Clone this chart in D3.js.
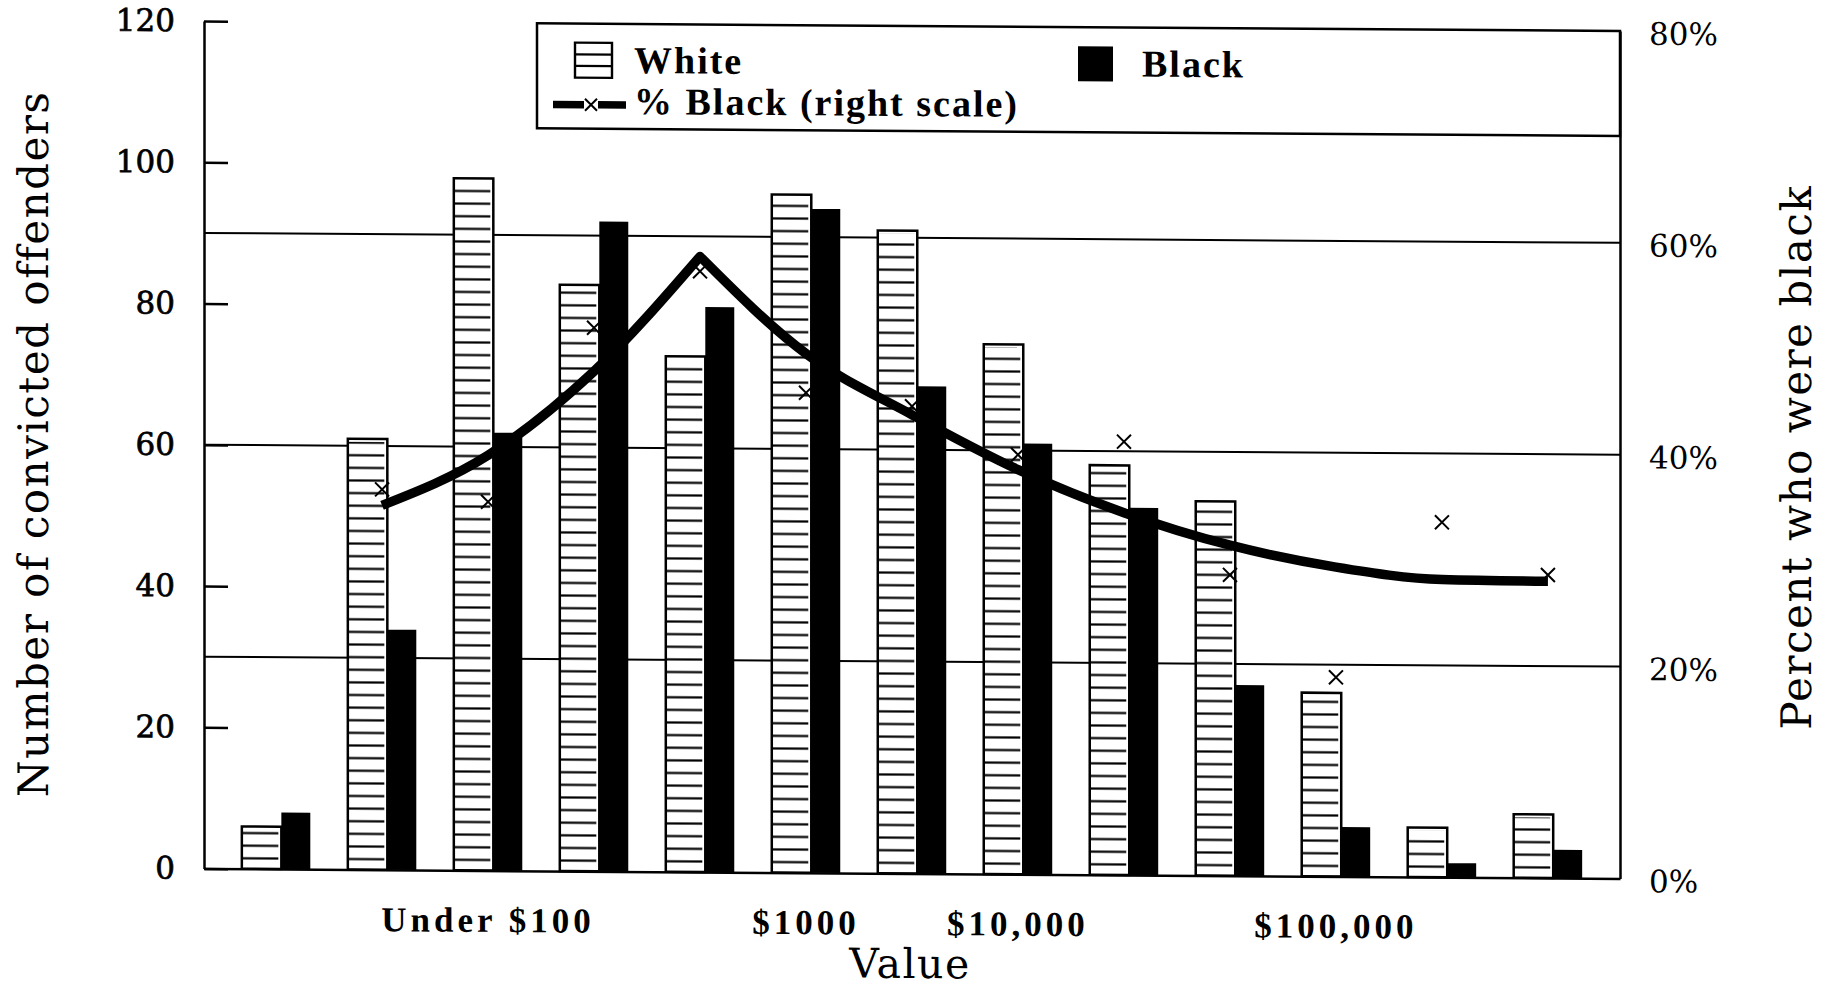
<!DOCTYPE html>
<html>
<head>
<meta charset="utf-8">
<script src="https://cdn.jsdelivr.net/npm/d3@7"></script>
<style>
  body { margin: 0; background: #fff; }
</style>
</head>
<body>
<script>
// dati
var categories = ["1","2","3","4","5","6","7","8","9","10","11","12","13"];   // classi di valore, dalla piu bassa
var xTickLabels = ["", "", "Under $100", "", "", "$1000", "", "$10,000", "", "", "$100,000", "", ""];
var whiteCounts = [6, 61, 98, 83, 73, 96, 91, 75, 58, 53, 26, 7, 9];
var blackCounts = [8, 34, 62, 92, 80, 94, 69, 61, 52, 27, 7, 2, 4];
var pctBlack = [null, 35.9, 34.8, 51.3, 56.7, 45.3, 44.1, 39.6, 40.9, 28.4, 18.8, 33.5, 28.6];   // le x
var pctTrend = [null, 34.4, 39.2, 47.2, 58.1, 49.0, 43.3, 38.2, 34.2, 31.2, 29.2, 28.1, 28.0];   // linea spessa
var leftTicks = [0, 20, 40, 60, 80, 100, 120];
var rightTicks = [0, 20, 40, 60, 80];
var gridTicks = [20, 40, 60];

// variabili globali
var w = 1827;
var h = 989;
var plotLeft = 204;
var plotRight = 1620;
var plotTop = 21;
var plotBottom = 868.5;
var skew = 0.00706;      // la scansione scende un po' verso destra
var whiteShare = 0.577;  // parte del gruppo occupata dalla barra bianca
var hatchGap = 12.62;    // passo delle righe nelle barre bianche
var titleFont = "'DejaVu Serif', serif";
var numFont = "'DejaVu Serif', serif";
var boldFont = "'Liberation Serif', 'Times New Roman', serif";

var x = d3.scaleBand().domain(categories).range([plotLeft, plotRight])
          .paddingInner(0.354).paddingOuter(0.357);
var yLeft = d3.scaleLinear().domain([0, 120]).range([plotBottom, plotTop]);
var yRight = d3.scaleLinear().domain([0, 80]).range([plotBottom, plotTop]);
var split = d3.scaleLinear().domain([0, 1]).range([0, x.bandwidth()]);

var svg = d3.select("body")
            .append("svg")
            .attr("width", w)
            .attr("height", h)
            .style("background", "#fff");

var defs = svg.append("defs");
defs.append("pattern")
    .attr("id", "hatch")
    .attr("patternUnits", "userSpaceOnUse")
    .attr("width", 10)
    .attr("height", hatchGap)
    .attr("y", 858 - hatchGap/2)
  .append("line")
    .attr("x1", 0).attr("x2", 10)
    .attr("y1", hatchGap/2).attr("y2", hatchGap/2)
    .attr("stroke", "#000")
    .attr("stroke-width", 2.2);

var g = svg.append("g")
           .attr("transform", "matrix(1," + skew + ",0,1,0," + (-skew*plotLeft) + ")");

function plotGrid() {
    g.selectAll(".grid")
     .data(gridTicks)
     .enter()
     .append("line")
     .attr("class", "grid")
     .attr("x1", plotLeft)
     .attr("x2", plotRight)
     .attr("y1", d => yRight(d))
     .attr("y2", d => yRight(d))
     .attr("stroke", "#000")
     .attr("stroke-width", 2);
}

function plotBars() {
    var groups = g.selectAll(".group")
                  .data(categories)
                  .enter()
                  .append("g")
                  .attr("class", "group")
                  .attr("transform", d => "translate(" + x(d) + ",0)");

    var ww = split(whiteShare) - split(0);

    groups.append("rect")
          .attr("x", split(0))
          .attr("width", ww)
          .attr("y", (d, i) => yLeft(whiteCounts[i]))
          .attr("height", (d, i) => plotBottom - yLeft(whiteCounts[i]))
          .attr("fill", "#fff");

    groups.append("rect")
          .attr("x", split(0))
          .attr("width", ww - 3)
          .attr("y", (d, i) => yLeft(whiteCounts[i]) + 3)
          .attr("height", (d, i) => Math.max(0, plotBottom - yLeft(whiteCounts[i]) - 3))
          .attr("fill", "url(#hatch)");

    groups.append("rect")
          .attr("x", split(0))
          .attr("width", ww)
          .attr("y", (d, i) => yLeft(whiteCounts[i]))
          .attr("height", (d, i) => plotBottom - yLeft(whiteCounts[i]))
          .attr("fill", "none")
          .attr("stroke", "#000")
          .attr("stroke-width", 2.5);

    groups.append("rect")
          .attr("x", split(whiteShare))
          .attr("width", split(1) - split(whiteShare))
          .attr("y", (d, i) => yLeft(blackCounts[i]))
          .attr("height", (d, i) => plotBottom - yLeft(blackCounts[i]))
          .attr("fill", "#000");
}

function plotAxes() {
    var ax = g.append("g")
              .attr("transform", "translate(" + plotLeft + ",0)")
              .call(d3.axisLeft(yLeft).tickValues(leftTicks)
                      .tickSizeInner(-24).tickSizeOuter(0).tickPadding(29));
    ax.selectAll("path, line").attr("stroke", "#000").attr("stroke-width", 2.5);
    ax.selectAll("text")
      .attr("font-family", numFont).attr("font-size", 31).attr("fill", "#000")
      .attr("stroke", "#000").attr("stroke-width", 0.7);

    var ar = g.append("g")
              .attr("transform", "translate(" + plotRight + ",0)")
              .call(d3.axisRight(yRight).tickValues(rightTicks)
                      .tickSize(0).tickPadding(29).tickFormat(d => d + "%"));
    ar.selectAll("path, line").attr("stroke", "#000").attr("stroke-width", 2.5);
    ar.selectAll("text")
      .attr("font-family", numFont).attr("font-size", 31).attr("fill", "#000")
      .attr("dy", "0.42em");

    var ab = g.append("g")
              .attr("transform", "translate(0," + plotBottom + ")")
              .call(d3.axisBottom(x).tickSize(0).tickPadding(36.6)
                      .tickFormat(d => xTickLabels[categories.indexOf(d)]));
    ab.selectAll("path").attr("stroke", "#000").attr("stroke-width", 2.5);
    ab.selectAll("text")
      .attr("font-family", boldFont)
      .attr("font-weight", "bold")
      .attr("font-size", 35)
      .attr("letter-spacing", 4)
      .attr("fill", "#000");
}

function cross(sel, r) {
    sel.attr("d", "M" + (-r) + "," + (-r) + "L" + r + "," + r + "M" + (-r) + "," + r + "L" + r + "," + (-r))
       .attr("fill", "none")
       .attr("stroke", "#000")
       .attr("stroke-width", 2);
}

function plotPercent() {
    var marks = categories.map((c, i) => ({cat: c, v: pctBlack[i]})).filter(d => d.v != null);
    g.selectAll(".mark")
     .data(marks)
     .enter()
     .append("path")
     .attr("class", "mark")
     .attr("transform", d => "translate(" + (x(d.cat) + x.bandwidth()/2) + "," + yRight(d.v) + ")")
     .call(cross, 7);

    // la linea sale fino al picco e poi scende: due tratti curvi uniti in un solo path
    var pts = categories.map((c, i) => ({cat: c, v: pctTrend[i]})).filter(d => d.v != null);
    var peak = d3.maxIndex(pts, d => d.v);
    var p = d3.path();
    var started = false;
    var ctx = {
        moveTo: function(a, b) { if (started) p.lineTo(a, b); else p.moveTo(a, b); started = true; },
        lineTo: function(a, b) { p.lineTo(a, b); },
        bezierCurveTo: function(a, b, c, d, e, f) { p.bezierCurveTo(a, b, c, d, e, f); },
        closePath: function() {}
    };
    var line = d3.line()
                 .x(d => x(d.cat) + x.bandwidth()/2)
                 .y(d => yRight(d.v))
                 .curve(d3.curveMonotoneX)
                 .context(ctx);
    line(pts.slice(0, peak + 1));
    line(pts.slice(peak));

    g.append("path")
     .attr("d", p.toString())
     .attr("fill", "none")
     .attr("stroke", "#000")
     .attr("stroke-width", 9.5)
     .attr("stroke-linejoin", "round");
}

function plotLegend() {
    var lg = g.append("g");
    var boxLeft = 537;
    var boxBottom = 126;

    lg.append("rect")
      .attr("x", boxLeft)
      .attr("y", plotTop)
      .attr("width", plotRight - boxLeft)
      .attr("height", boxBottom - plotTop)
      .attr("fill", "#fff")
      .attr("stroke", "#000")
      .attr("stroke-width", 2.5);

    // campione bianco a righe
    var sw = d3.scaleLinear().domain([0, 3]).range([40, 75]);
    lg.append("rect")
      .attr("x", 575).attr("y", sw(0))
      .attr("width", 37).attr("height", sw(3) - sw(0))
      .attr("fill", "#fff").attr("stroke", "#000").attr("stroke-width", 2.4);
    lg.selectAll(".swline")
      .data([1, 2])
      .enter()
      .append("line")
      .attr("x1", 575).attr("x2", 612)
      .attr("y1", d => sw(d)).attr("y2", d => sw(d))
      .attr("stroke", "#000").attr("stroke-width", 2.2);

    lg.append("rect")
      .attr("x", 1078).attr("y", sw(0))
      .attr("width", 35).attr("height", sw(3) - sw(0))
      .attr("fill", "#000");

    // campione della linea
    lg.append("line").attr("x1", 553).attr("x2", 584).attr("y1", 102).attr("y2", 102)
      .attr("stroke", "#000").attr("stroke-width", 7.5);
    lg.append("line").attr("x1", 598).attr("x2", 626).attr("y1", 102).attr("y2", 102)
      .attr("stroke", "#000").attr("stroke-width", 7.5);
    lg.append("path").attr("transform", "translate(591,102)").call(cross, 6);

    var items = [
        {label: "White", x: 634, y: 70},
        {label: "Black", x: 1142, y: 70},
        {label: "% Black (right scale)", x: 634, y: 111}
    ];
    lg.selectAll(".ltext")
      .data(items)
      .enter()
      .append("text")
      .attr("x", d => d.x)
      .attr("y", d => d.y)
      .attr("font-family", boldFont)
      .attr("font-weight", "bold")
      .attr("font-size", 38)
      .attr("letter-spacing", 2)
      .attr("fill", "#000")
      .text(d => d.label);
}

function plotTitles() {
    g.append("text")
     .attr("transform", "translate(48,445) rotate(-90)")
     .attr("text-anchor", "middle")
     .attr("font-family", titleFont)
     .attr("font-size", 42)
     .attr("letter-spacing", 1.5)
     .text("Number of convicted offenders");

    g.append("text")
     .attr("transform", "translate(1811,446) rotate(-90)")
     .attr("text-anchor", "middle")
     .attr("font-family", titleFont)
     .attr("font-size", 42)
     .attr("letter-spacing", 1.5)
     .text("Percent who were black");

    g.append("text")
     .attr("x", 910)
     .attr("y", 973)
     .attr("text-anchor", "middle")
     .attr("font-family", titleFont)
     .attr("font-size", 41)
     .attr("letter-spacing", 1.5)
     .text("Value");
}

plotGrid();
plotBars();
plotAxes();
plotPercent();
plotLegend();
plotTitles();
</script>
</body>
</html>
